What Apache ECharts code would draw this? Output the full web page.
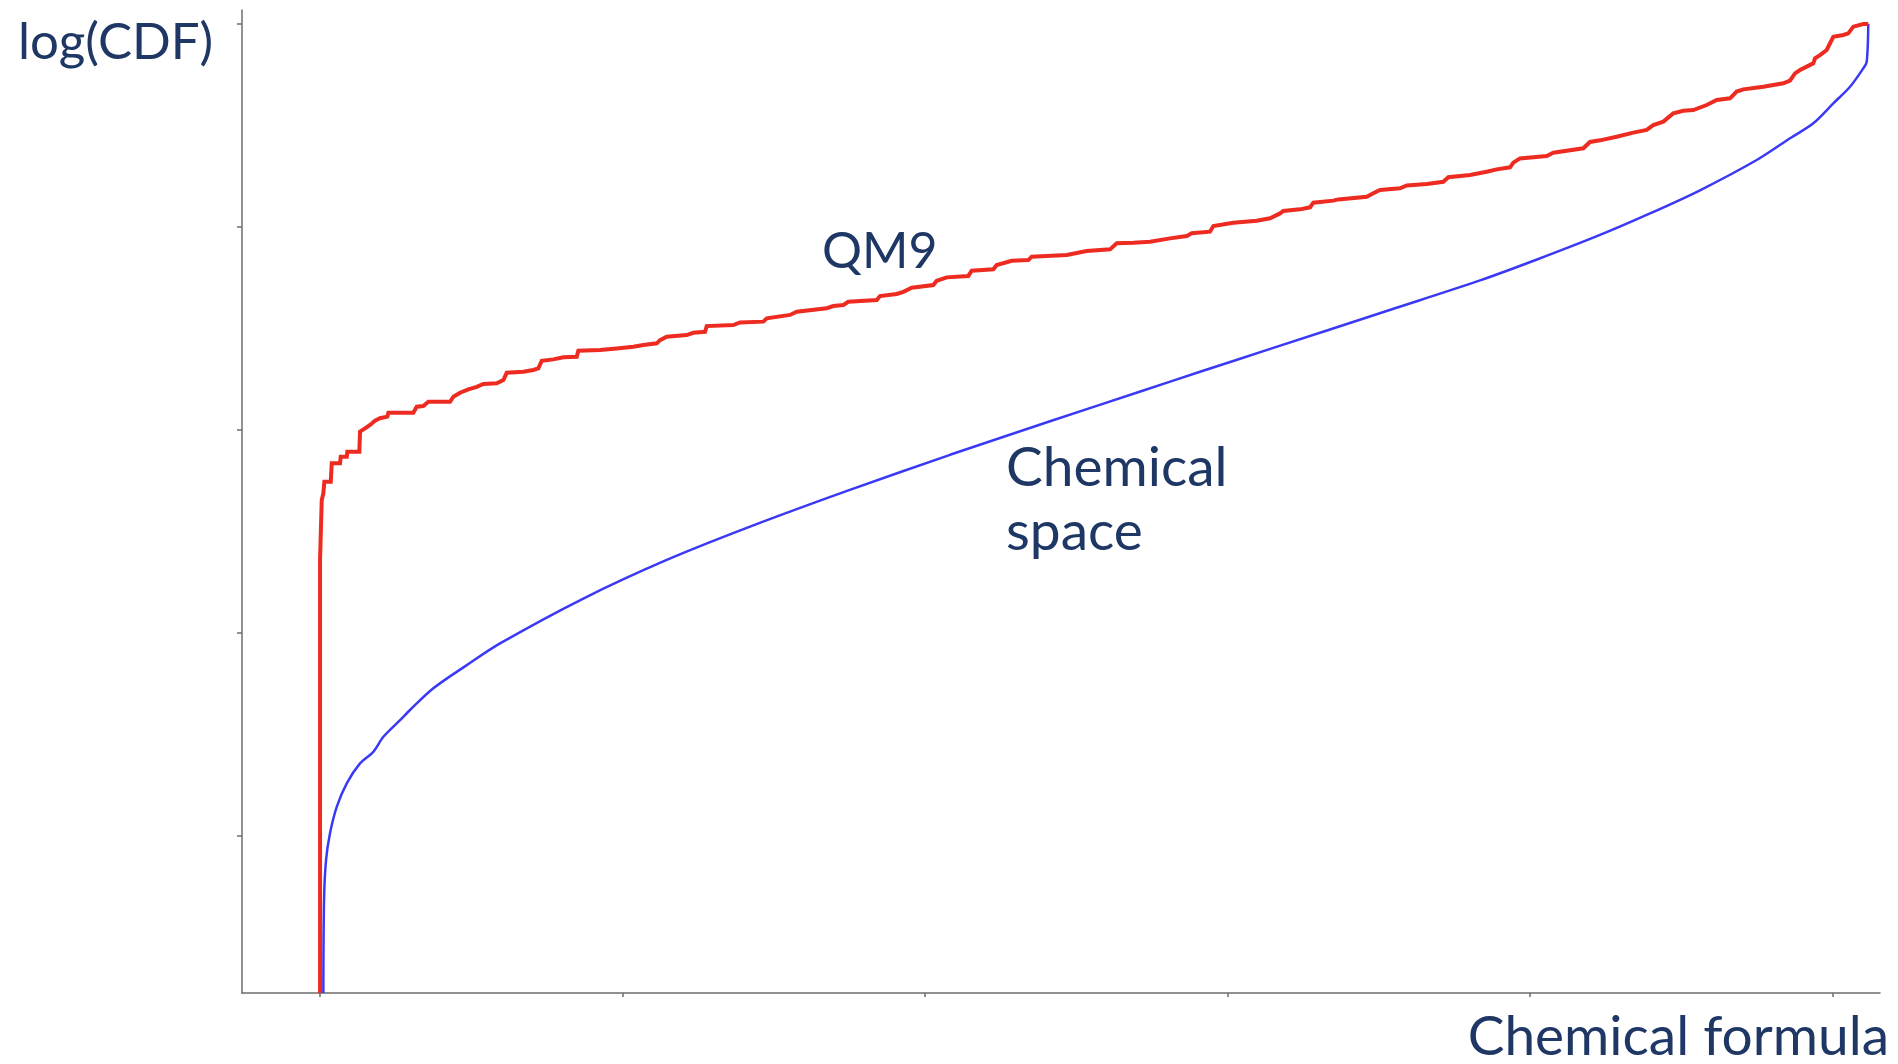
<!DOCTYPE html>
<html>
<head>
<meta charset="utf-8">
<title>log(CDF) vs chemical formula</title>
<script src="https://cdn.jsdelivr.net/npm/echarts@6/dist/echarts.min.js"></script>
<style>
  html, body { margin: 0; padding: 0; background: #ffffff; }
  #chart { width: 1898px; height: 1064px; }
</style>
</head>
<body>
<div id="chart"></div>
<script>
// Formula rank (x) and log10 of the cumulative distribution (y).
// QM9: empirical CDF over chemical formulas (staircase).
const qm9X = [0, 0, 0.0056, 0.0109, 0.0142, 0.0354, 0.0387, 0.0661, 0.0684, 0.0883, 0.0902, 0.1299, 0.1322, 0.1488, 0.1653, 0.1818, 0.1983, 0.2225, 0.2258, 0.3084, 0.3197, 0.3415, 0.3580, 0.4298, 0.4407, 0.4628, 0.4902, 0.5180, 0.5398, 0.5841, 0.6060, 0.6172, 0.6721, 0.7051, 0.7217, 0.7329, 0.7712, 0.8043, 0.8486, 0.8539, 0.9256, 0.9808, 1.0357, 1.0688, 1.1131, 1.1240, 1.1461, 1.2122, 1.2340, 1.2727, 1.2783, 1.3663, 1.3884, 1.4655, 1.4767, 1.5537, 1.5759, 1.6750, 1.6969, 1.7299, 1.7464, 1.8403, 1.8512, 1.9064, 1.9283, 1.9560, 2.0274, 2.0387, 2.0717, 2.1431, 2.1544, 2.2258, 2.2370, 2.2866, 2.3415, 2.3527, 2.4684, 2.5345, 2.6116, 2.6337, 2.6886, 2.7438, 2.8099, 2.8651, 2.8817, 2.9421, 2.9531, 3.0192, 3.0965, 3.1405, 3.1736, 3.1845, 3.2397, 3.2727, 3.2836, 3.3498, 3.3663, 3.4602, 3.4820, 3.5041, 3.5702, 3.5924, 3.6585, 3.7134, 3.7299, 3.8017, 3.8569, 3.8899, 3.9339, 3.9448, 3.9669, 4.0552, 4.0770, 4.1762, 4.1983, 4.2314, 4.2866, 4.3415, 4.3857, 4.4076, 4.4407, 4.4738, 4.5068, 4.5398, 4.5841, 4.6172, 4.6612, 4.6833, 4.7052, 4.7713, 4.8374, 4.8595, 4.8760, 4.8926, 4.9147, 4.9365, 4.9421, 4.9587, 4.9808, 4.9861, 5.0026, 5.0357, 5.0522, 5.0688, 5.1018, 5.1183];
const qm9LogCdf = [-4.773, -2.640, -2.345, -2.312, -2.255, -2.255, -2.164, -2.164, -2.131, -2.131, -2.107, -2.107, -2.008, -1.992, -1.975, -1.954, -1.942, -1.934, -1.915, -1.915, -1.885, -1.882, -1.861, -1.861, -1.836, -1.816, -1.800, -1.787, -1.773, -1.770, -1.754, -1.718, -1.713, -1.704, -1.696, -1.659, -1.652, -1.642, -1.639, -1.609, -1.606, -1.598, -1.590, -1.581, -1.573, -1.557, -1.540, -1.532, -1.521, -1.516, -1.488, -1.483, -1.470, -1.466, -1.450, -1.433, -1.417, -1.400, -1.389, -1.384, -1.368, -1.360, -1.340, -1.330, -1.319, -1.299, -1.286, -1.265, -1.248, -1.241, -1.215, -1.208, -1.187, -1.166, -1.163, -1.146, -1.138, -1.118, -1.110, -1.080, -1.077, -1.072, -1.056, -1.044, -1.031, -1.023, -0.995, -0.979, -0.969, -0.957, -0.933, -0.921, -0.913, -0.903, -0.880, -0.870, -0.864, -0.851, -0.834, -0.818, -0.809, -0.795, -0.788, -0.777, -0.755, -0.744, -0.728, -0.716, -0.706, -0.683, -0.662, -0.650, -0.634, -0.612, -0.581, -0.573, -0.555, -0.535, -0.522, -0.498, -0.481, -0.440, -0.427, -0.424, -0.399, -0.374, -0.366, -0.333, -0.322, -0.309, -0.292, -0.279, -0.243, -0.227, -0.210, -0.194, -0.169, -0.153, -0.128, -0.112, -0.063, -0.054, -0.046, -0.013, 0, 0];

// Chemical space: CDF over all enumerated formulas (smooth).
const spaceX = [0.0109, 0.0132, 0.0198, 0.0331, 0.0552, 0.0883, 0.1322, 0.1762, 0.2093, 0.2645, 0.2975, 0.3745, 0.4850, 0.5950, 0.8704, 1.1461, 1.4215, 1.7421, 2.0826, 2.4132, 2.7217, 2.9091, 3.1438, 3.5438, 3.8347, 4.0231, 4.2314, 4.3967, 4.5620, 4.7494, 4.8595, 4.9365, 5.0026, 5.0579, 5.1018, 5.1130, 5.1183];
const spaceLogCdf = [-4.773, -4.315, -4.118, -3.985, -3.856, -3.740, -3.642, -3.585, -3.511, -3.429, -3.379, -3.272, -3.158, -3.051, -2.830, -2.640, -2.476, -2.300, -2.122, -1.957, -1.805, -1.713, -1.599, -1.405, -1.263, -1.160, -1.039, -0.933, -0.819, -0.670, -0.563, -0.489, -0.391, -0.309, -0.218, -0.186, 0];

// Tick positions (labels are not shown on either axis).
const xTickValues = [0, 1, 2, 3, 4, 5];
const yTickValues = [0, -1, -2, -3, -4];

const textColor = '#1e3764';
const fontFamily = 'Lato, "Noto Sans", sans-serif';

const pairs = (xs, ys) => xs.map((x, i) => [x, ys[i]]);

const chart = echarts.init(document.getElementById('chart'), null, { renderer: 'canvas' });

const axisColor = '#6e6e6e';
const axisLine = { show: true, onZero: false, lineStyle: { color: axisColor, width: 1.5 } };

chart.setOption({
  animation: false,
  backgroundColor: '#ffffff',
  grid: { left: 242, right: 18, top: 10, bottom: 71 },
  xAxis: {
    type: 'value',
    min: -0.258,
    max: 5.157,
    axisLine: axisLine,
    axisTick: { show: true, length: 4, customValues: xTickValues, lineStyle: { color: axisColor, width: 1.5 } },
    axisLabel: { show: false },
    splitLine: { show: false }
  },
  yAxis: {
    type: 'value',
    min: -4.773,
    max: 0.069,
    axisLine: axisLine,
    axisTick: { show: true, length: 5, customValues: yTickValues, lineStyle: { color: axisColor, width: 1.5 } },
    axisLabel: { show: false },
    splitLine: { show: false }
  },
  series: [
    {
      name: 'Chemical space',
      type: 'line',
      data: pairs(spaceX, spaceLogCdf),
      showSymbol: false,
      smooth: 0.3,
      lineStyle: { color: '#3a3af6', width: 2.5 },
      z: 2
    },
    {
      name: 'QM9',
      type: 'line',
      data: pairs(qm9X, qm9LogCdf),
      showSymbol: false,
      lineStyle: { color: '#ee2b20', width: 4, join: 'miter' },
      z: 3
    }
  ],
  graphic: [
    { type: 'text', left: 18, top: 17, style: { text: 'log(CDF)', font: '51px ' + fontFamily, fill: textColor } },
    { type: 'text', left: 822, top: 227, style: { text: 'QM9', font: '50px ' + fontFamily, fill: textColor } },
    { type: 'text', left: 1006, top: 436, style: { text: 'Chemical\nspace', font: '55px ' + fontFamily, lineHeight: 64, fill: textColor } },
    { type: 'text', right: 9, top: 1010, style: { text: 'Chemical formula', font: '55px ' + fontFamily, fill: textColor } }
  ]
});
</script>
</body>
</html>
